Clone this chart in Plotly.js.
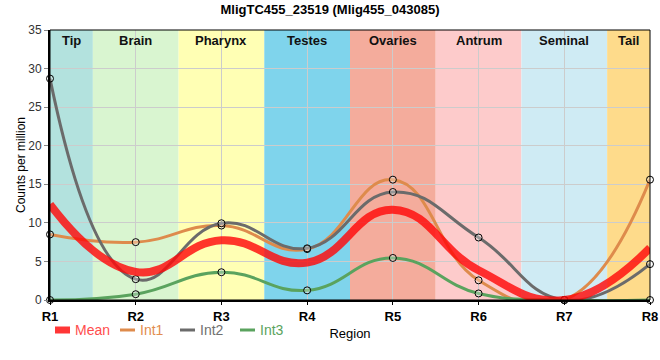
<!DOCTYPE html>
<html>
<head>
<meta charset="utf-8">
<script src="https://cdn.plot.ly/plotly-3.0.1.min.js"></script>
<style>html,body{margin:0;padding:0;background:#fff;}#chart{width:660px;height:360px;}</style>
</head>
<body>
<div id="chart"></div>
<script>
// ---- data ----
const categories = ["R1", "R2", "R3", "R4", "R5", "R6", "R7", "R8"];
const regionNames = ["Tip", "Brain", "Pharynx", "Testes", "Ovaries", "Antrum", "Seminal", "Tail"];
const int1 = [8.5, 7.5, 9.65, 6.6, 15.6, 2.55, 0, 15.6];
const int2 = [28.7, 2.7, 9.95, 6.7, 14.0, 8.1, 0, 4.65];
const int3 = [0, 0.75, 3.6, 1.25, 5.45, 0.85, 0, 0];
const meanVals = [12.4, 3.65, 7.75, 4.85, 11.7, 3.85, 0, 6.75];
const seriesNames = ["Mean", "Int1", "Int2", "Int3"];
const titleText = "MligTC455_23519 (Mlig455_043085)";

// ---- styles ----
const regionColors = ["#b3e2de", "#d9f5d0", "#ffffb4", "#7fd4ec", "#f4ac9c", "#fdcbcb", "#cfebf4", "#fedb8b"];
const seriesColors = ["rgba(255,10,10,0.82)", "#de8b4c", "#6b6b6b", "#5aa35e"];
const legendTextColors = ["#ff4d4d", "#e28d4f", "#707070", "#5aa35e"];
const FONT = "Liberation Sans, Arial, sans-serif";
const SMOOTH = 1.3;

const W = 660, H = 360, ML = 50, MR = 10, MT = 30, MB = 60;
const pw = W - ML - MR, ph = H - MT - MB;
const px2x = p => (p - ML) / pw;
const py2y = p => (H - MB - p) / ph;

function lineTrace(vals, i) {
  return {
    x: categories, y: vals, name: seriesNames[i], type: "scatter", mode: "lines+markers",
    line: {color: seriesColors[i], width: 3, shape: "spline", smoothing: SMOOTH},
    marker: {symbol: "circle", size: 7, color: "rgba(255,255,255,0.3)", line: {color: "#000", width: 1}},
    cliponaxis: false, showlegend: false, hoverinfo: "x+y"
  };
}
const traces = [
  lineTrace(int1, 1),
  lineTrace(int2, 2),
  lineTrace(int3, 3),
  {x: categories, y: meanVals, name: seriesNames[0], type: "scatter", mode: "lines",
   line: {color: seriesColors[0], width: 8, shape: "spline", smoothing: SMOOTH}, showlegend: false}
];

const n = categories.length;
const shapes = [];
const annotations = [];
regionNames.forEach((name, i) => {
  const x0 = Math.max(0, i - 0.5), x1 = Math.min(n - 1, i + 0.5);
  shapes.push({type: "rect", xref: "x", yref: "paper", x0: x0, x1: x1, y0: 0, y1: 1,
    fillcolor: regionColors[i], line: {width: 0}, layer: "below"});
  annotations.push({x: (x0 + x1) / 2, y: 1, xref: "x", yref: "paper", yanchor: "top", yshift: -1,
    text: "<b>" + name + "</b>", showarrow: false, font: {family: FONT, size: 13, color: "#111"}});
});
// plot border
shapes.push({type: "rect", xref: "paper", yref: "paper", x0: 0, x1: 1, y0: 0, y1: 1,
  line: {color: "#000", width: 1}, layer: "above"});

// custom legend
const legX = [55, 120, 180, 240];
const legY = 330;
seriesNames.forEach((name, i) => {
  if (i === 0) {
    shapes.push({type: "rect", xref: "paper", yref: "paper", x0: px2x(legX[i]), x1: px2x(legX[i] + 15),
      y0: py2y(legY + 3.5), y1: py2y(legY - 3.5), fillcolor: seriesColors[0], line: {width: 0}});
  } else {
    shapes.push({type: "line", xref: "paper", yref: "paper", x0: px2x(legX[i]), x1: px2x(legX[i] + 15),
      y0: py2y(legY), y1: py2y(legY), line: {color: seriesColors[i], width: 3}});
  }
  annotations.push({xref: "paper", yref: "paper", x: px2x(legX[i] + 18), y: py2y(legY),
    xanchor: "left", yanchor: "middle", text: name, showarrow: false,
    font: {family: FONT, size: 14, color: legendTextColors[i]}});
});

const layout = {
  width: W, height: H,
  margin: {l: ML, r: MR, t: MT, b: MB, pad: 0},
  paper_bgcolor: "#fff", plot_bgcolor: "#fff",
  font: {family: FONT, size: 12, color: "#222"},
  title: {text: "<b>" + titleText + "</b>", x: 0.5, xanchor: "center", y: 1 - 9 / H, yanchor: "middle",
    yref: "container", font: {family: FONT, size: 13, color: "#000"}},
  showlegend: false,
  xaxis: {type: "category", range: [0, n - 1], showgrid: true, gridcolor: "#cccccc", gridwidth: 1,
    showline: true, linecolor: "#000", linewidth: 2, ticks: "outside", ticklen: 3, tickcolor: "#000",
    tickfont: {family: FONT, size: 13, color: "#000", weight: "bold"},
    title: {text: "Region", standoff: 6, font: {family: FONT, size: 13, color: "#000"}},
    zeroline: false, fixedrange: true},
  yaxis: {range: [0, 35], dtick: 5, showgrid: true, gridcolor: "#cccccc", gridwidth: 1,
    showline: true, linecolor: "#000", linewidth: 2, ticks: "outside", ticklen: 4, tickcolor: "#888",
    tickfont: {family: FONT, size: 12, color: "#333"},
    title: {text: "Counts per million", standoff: 0, font: {family: FONT, size: 12, color: "#000"}},
    zeroline: false, fixedrange: true},
  shapes: shapes,
  annotations: annotations
};

Plotly.newPlot("chart", traces, layout, {displayModeBar: false, staticPlot: true});
</script>
</body>
</html>
